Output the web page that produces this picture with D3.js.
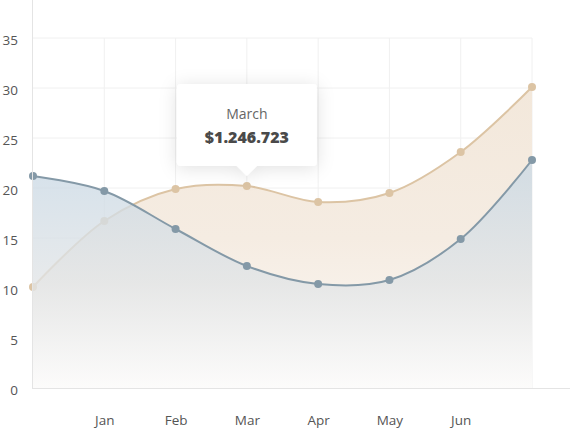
<!DOCTYPE html>
<html>
<head>
<meta charset="utf-8">
<script src="https://cdn.jsdelivr.net/npm/d3@7"></script>
<style>
  body { margin: 0; background: #fff; }
  svg { display: block; }
  svg text { font-family: "Open Sans", "Noto Sans", sans-serif; }
</style>
</head>
<body>
<script>
// chart values
var tickLabels = ["", "Jan", "Feb", "Mar", "Apr", "May", "Jun", ""];
var blueSeries = [21.2, 19.7, 15.9, 12.2, 10.4, 10.8, 14.9, 22.8];
var tanSeries = [10.1, 16.7, 19.9, 20.2, 18.6, 19.5, 23.6, 30.1];
var yTicks = [0, 5, 10, 15, 20, 25, 30, 35];
var tipIndex = 3;
var tipTitle = "March";
var tipValue = "$1.246.723";

var width = 570,
    height = 432;

var svg = d3.select("body")
            .append("svg")
            .attr("width", width)
            .attr("height", height);

var x = d3.scalePoint()
          .domain(d3.range(tickLabels.length))
          .range([33, 532]);

var y = d3.scaleLinear()
          .domain([0, 35])
          .range([388, 38]);

var defs = svg.append("defs");

function grad(id, y1, stops, opacity) {
    var g = defs.append("linearGradient")
                .attr("id", id)
                .attr("gradientUnits", "userSpaceOnUse")
                .attr("x1", 0).attr("x2", 0)
                .attr("y1", y1).attr("y2", y(0));
    stops.forEach(function(c, i) {
        g.append("stop")
         .attr("offset", i / (stops.length - 1))
         .attr("stop-color", c)
         .attr("stop-opacity", opacity);
    });
}
grad("gradBlue", y(21), ["#ccdae5", "#e1e4e6", "#fcfcfc"], 0.78);
grad("gradTan", y(30), ["#f3e8db", "#f5ece2", "#fcf9f6"], 1);

var shadow = defs.append("filter")
                 .attr("id", "shadow")
                 .attr("x", "-40%").attr("y", "-40%")
                 .attr("width", "180%").attr("height", "180%");
shadow.append("feDropShadow")
      .attr("dx", 0).attr("dy", 2)
      .attr("stdDeviation", 9)
      .attr("flood-color", "#000")
      .attr("flood-opacity", 0.12);

// grid
var grid = svg.append("g");
grid.selectAll("line.h")
    .data(yTicks.slice(1))
    .enter()
    .append("line")
      .attr("x1", 32).attr("x2", 532)
      .attr("y1", d => y(d)).attr("y2", d => y(d))
      .attr("stroke", "#f0f0f0");
grid.selectAll("line.v")
    .data(d3.range(1, tickLabels.length))
    .enter()
    .append("line")
      .attr("x1", d => x(d)).attr("x2", d => x(d))
      .attr("y1", y(35)).attr("y2", y(0))
      .attr("stroke", "#f0f0f0");

var curve = d3.curveCatmullRom.alpha(0.5);

var line = d3.line()
             .x((d, i) => x(i))
             .y(d => y(d))
             .curve(curve);

var area = d3.area()
             .x((d, i) => x(i))
             .y0(y(0))
             .y1(d => y(d))
             .curve(curve);

function drawSeries(data, color, fillId) {
    var g = svg.append("g");
    g.append("path")
     .attr("d", area(data))
     .attr("fill", "url(#" + fillId + ")");
    g.append("path")
     .attr("d", line(data))
     .attr("fill", "none")
     .attr("stroke", color)
     .attr("stroke-width", 2);
    g.selectAll("circle")
     .data(data)
     .enter()
     .append("circle")
       .attr("cx", (d, i) => x(i))
       .attr("cy", d => y(d))
       .attr("r", 4)
       .attr("fill", color);
}

drawSeries(tanSeries, "#dcc4a4", "gradTan");
drawSeries(blueSeries, "#8499a7", "gradBlue");

// axes
var yAxis = svg.append("g")
               .attr("transform", "translate(32,0)")
               .call(d3.axisLeft(y).tickValues(yTicks).tickSize(0).tickPadding(14));
yAxis.select(".domain").remove();
yAxis.selectAll("text")
     .attr("fill", "#555")
     .attr("dy", "0.5em")
     .style("font-family", "'Open Sans', sans-serif")
     .style("font-size", "13.5px");

var xAxis = svg.append("g")
               .attr("transform", "translate(0,388)")
               .call(d3.axisBottom(x).tickFormat(i => tickLabels[i]).tickSize(0).tickPadding(27));
xAxis.select(".domain").remove();
xAxis.selectAll("text")
     .attr("fill", "#555")
     .style("font-family", "'Open Sans', sans-serif")
     .style("font-size", "13.5px");

svg.append("line")
   .attr("x1", 32.5).attr("x2", 32.5)
   .attr("y1", 0).attr("y2", 388)
   .attr("stroke", "#e4e4e4");
svg.append("line")
   .attr("x1", 32).attr("x2", width)
   .attr("y1", 388.5).attr("y2", 388.5)
   .attr("stroke", "#e4e4e4");

// tooltip
var tipX = x(tipIndex),
    tipY = y(tanSeries[tipIndex]);
var boxW = 140, boxH = 82, r = 4;
var bx = tipX - boxW / 2, by = tipY - 102;
var tip = svg.append("g");
tip.append("path")
   .attr("d", "M" + (bx + r) + "," + by +
              "H" + (bx + boxW - r) + "Q" + (bx + boxW) + "," + by + " " + (bx + boxW) + "," + (by + r) +
              "V" + (by + boxH - r) + "Q" + (bx + boxW) + "," + (by + boxH) + " " + (bx + boxW - r) + "," + (by + boxH) +
              "H" + (tipX + 10) + "L" + tipX + "," + (by + boxH + 10) + "L" + (tipX - 10) + "," + (by + boxH) +
              "H" + (bx + r) + "Q" + bx + "," + (by + boxH) + " " + bx + "," + (by + boxH - r) +
              "V" + (by + r) + "Q" + bx + "," + by + " " + (bx + r) + "," + by + "Z")
   .attr("fill", "#fff")
   .attr("filter", "url(#shadow)");
tip.append("text")
   .attr("x", tipX).attr("y", by + 35)
   .attr("text-anchor", "middle")
   .attr("fill", "#666")
   .style("font-size", "14px")
   .text(tipTitle);
tip.append("text")
   .attr("x", tipX).attr("y", by + 59)
   .attr("text-anchor", "middle")
   .attr("fill", "#4a4a4a")
   .style("font-size", "16px")
   .style("font-weight", "800")
   .text(tipValue);
</script>
</body>
</html>
